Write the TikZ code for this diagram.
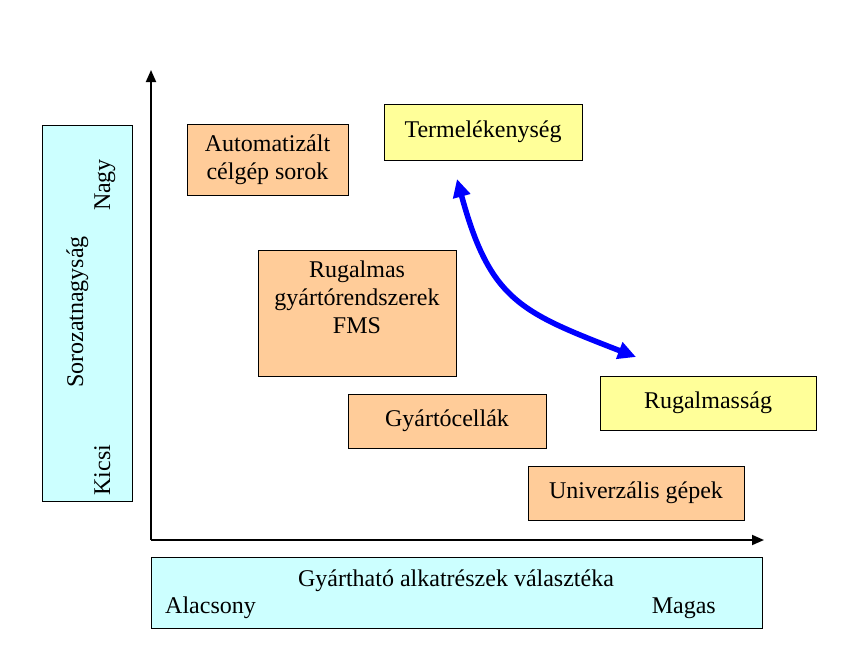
\documentclass[tikz,border=0pt]{standalone}
\usepackage{fontspec}
\setmainfont{Liberation Serif}
\usepackage{tikz}
\usetikzlibrary{arrows.meta}

\definecolor{lightcyan}{HTML}{CCFFFF}
\definecolor{lightorange}{HTML}{FFCC99}
\definecolor{lightyellow}{HTML}{FFFF99}

\begin{document}
\begin{tikzpicture}[x = 1pt, y = -1pt]
        \tikzset{box/.style = {shape=rectangle,draw,line width=0.9pt,inner sep=3pt,align=center,font=\fontsize{24}{27.8}\selectfont}}
        \tikzset{orangebox/.style = {box,fill=lightorange}}
        \tikzset{yellowbox/.style = {box,fill=lightyellow}}
        \tikzset{cyanbox/.style = {box,fill=lightcyan}}
        \tikzset{label/.style = {inner sep=0pt,font=\fontsize{24}{27.8}\selectfont}}
        \tikzset{axis/.style = {line width=1.8pt,-{Triangle[length=12pt,width=10pt]}}}
        \useasboundingbox (0,0) rectangle (868,667);
        % axes
        \coordinate (origin) at (151,540);
        \coordinate (ytop) at (151,70);
        \coordinate (xend) at (764,540);
        \draw[axis] (origin) -- (ytop);
        \draw[axis] (origin) -- (xend);
        % axis boxes
        \node[cyanbox,minimum width=90pt,minimum height=376pt] (ybox) at (87,313) {};
        \node[label,rotate=90,anchor=base] (ytitle) at (83,312) {Sorozatnagyság};
        \node[label,rotate=90,anchor=base] (ynagy) at (110,185) {Nagy};
        \node[label,rotate=90,anchor=base] (ykicsi) at (110,470) {Kicsi};
        \node[cyanbox,minimum width=611pt,minimum height=71pt] (xbox) at (456.5,592.5) {};
        \node[label,anchor=base] (xtitle) at (456,586) {Gyártható alkatrészek választéka};
        \node[label,anchor=base west] (xalacsony) at (165,613) {Alacsony};
        \node[label,anchor=base east] (xmagas) at (716,613) {Magas};
        % boxes
        \node[orangebox,minimum width=161pt,minimum height=71pt] (celgep) at (267.5,159.5) {Automatizált\\célgép sorok};
        \node[yellowbox,minimum width=198pt,minimum height=56pt] (termel) at (483,132) {Termelékenység};
        \node[orangebox,minimum width=198pt,minimum height=126pt,text depth=32pt] (fms) at (357,313) {Rugalmas\\gyártórendszerek\\FMS};
        \node[orangebox,minimum width=198pt,minimum height=54pt] (cella) at (447,421) {Gyártócellák};
        \node[yellowbox,minimum width=216pt,minimum height=54pt] (rugalm) at (708,403) {Rugalmasság};
        \node[orangebox,minimum width=216pt,minimum height=54pt] (univ) at (636,493) {Univerzális gépek};
        % trade-off arrow
        \coordinate (up) at (457,179);
        \coordinate (down) at (636,357);
        \draw[blue,line width=5.5pt,{Triangle[length=18pt,width=17pt]}-{Triangle[length=18pt,width=17pt]}]
                (up) .. controls (490,300) and (520,312) .. (down);
\end{tikzpicture}
\end{document}
